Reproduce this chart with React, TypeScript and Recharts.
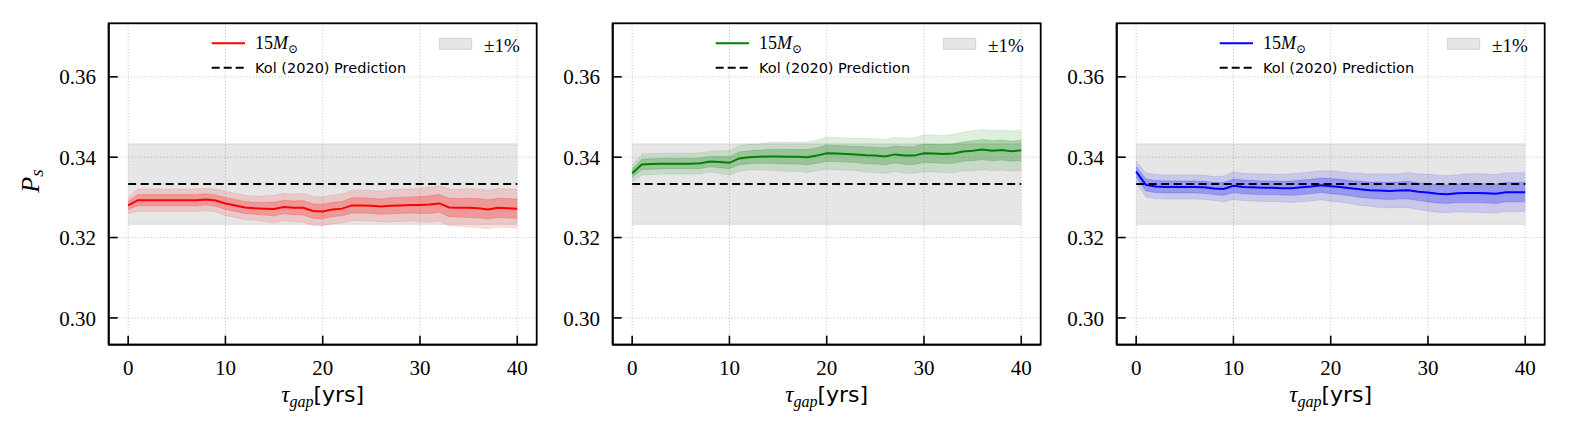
import React from 'react'
import {
  ComposedChart, Area, Line, XAxis, YAxis, CartesianGrid, Legend,
} from 'recharts'

// ── Data ───────────────────────────────────────────────────────────────────────
const T_GAP = [
  0, 1, 2, 3, 4, 5, 6, 7, 8, 9, 10, 11, 12, 13, 14, 15, 16, 17, 18, 19, 20,
  21, 22, 23, 24, 25, 26, 27, 28, 29, 30, 31, 32, 33, 34, 35, 36, 37, 38, 39, 40,
]

const RED_MEAN = [
  0.3280, 0.3293, 0.3293, 0.3293, 0.3293, 0.3293, 0.3293, 0.3293, 0.3295, 0.3292,
  0.3285, 0.3280, 0.3275, 0.3273, 0.3272, 0.3271, 0.3276, 0.3274, 0.3274, 0.3266,
  0.3265, 0.3270, 0.3272, 0.3280, 0.3280, 0.3279, 0.3277, 0.3279, 0.3280, 0.3281,
  0.3281, 0.3282, 0.3285, 0.3275, 0.3274, 0.3274, 0.3273, 0.3270, 0.3274, 0.3273,
  0.3272,
]
const RED_SIGMA = [
  0.0010, 0.0014, 0.0014, 0.0014, 0.0014, 0.0014, 0.0014, 0.0014, 0.0014, 0.0014,
  0.0015, 0.0015, 0.0015, 0.0015, 0.0016, 0.0017, 0.0017, 0.0017, 0.0018, 0.0018,
  0.0018, 0.0018, 0.0018, 0.0019, 0.0019, 0.0019, 0.0019, 0.0020, 0.0020, 0.0020,
  0.0021, 0.0022, 0.0022, 0.0023, 0.0023, 0.0024, 0.0024, 0.0024, 0.0024, 0.0024,
  0.0024,
]

const GREEN_MEAN = [
  0.3360, 0.3382, 0.3383, 0.3384, 0.3384, 0.3384, 0.3384, 0.3385, 0.3389, 0.3388,
  0.3386, 0.3397, 0.3400, 0.3401, 0.3402, 0.3402, 0.3401, 0.3401, 0.3400, 0.3404,
  0.3410, 0.3409, 0.3408, 0.3407, 0.3405, 0.3404, 0.3402, 0.3407, 0.3404, 0.3404,
  0.3410, 0.3409, 0.3408, 0.3409, 0.3414, 0.3416, 0.3419, 0.3416, 0.3418, 0.3415,
  0.3417,
]
const GREEN_SIGMA = [
  0.0010, 0.0013, 0.0013, 0.0013, 0.0013, 0.0013, 0.0013, 0.0013, 0.0013, 0.0014,
  0.0015, 0.0016, 0.0016, 0.0016, 0.0017, 0.0018, 0.0018, 0.0018, 0.0019, 0.0019,
  0.0020, 0.0020, 0.0020, 0.0020, 0.0021, 0.0021, 0.0021, 0.0021, 0.0022, 0.0022,
  0.0023, 0.0023, 0.0023, 0.0024, 0.0024, 0.0025, 0.0025, 0.0025, 0.0025, 0.0025,
  0.0025,
]

const BLUE_MEAN = [
  0.3364, 0.3331, 0.3327, 0.3326, 0.3326, 0.3326, 0.3326, 0.3325, 0.3322, 0.3321,
  0.3329, 0.3326, 0.3325, 0.3324, 0.3324, 0.3323, 0.3323, 0.3325, 0.3327, 0.3330,
  0.3328, 0.3326, 0.3323, 0.3320, 0.3318, 0.3317, 0.3316, 0.3317, 0.3318, 0.3314,
  0.3312, 0.3309, 0.3308, 0.3310, 0.3311, 0.3311, 0.3310, 0.3309, 0.3313, 0.3313,
  0.3313,
]
const BLUE_SIGMA = [
  0.0013, 0.0015, 0.0015, 0.0015, 0.0015, 0.0015, 0.0015, 0.0015, 0.0015, 0.0016,
  0.0017, 0.0017, 0.0017, 0.0017, 0.0017, 0.0017, 0.0018, 0.0018, 0.0018, 0.0018,
  0.0019, 0.0019, 0.0019, 0.0020, 0.0020, 0.0021, 0.0021, 0.0021, 0.0022, 0.0022,
  0.0023, 0.0023, 0.0023, 0.0023, 0.0024, 0.0024, 0.0024, 0.0024, 0.0024, 0.0024,
  0.0024,
]

const KOL_PREDICTION = 0.3333
const BAND_LO = 0.3233
const BAND_HI = 0.3433

const X_TICKS = [0, 10, 20, 30, 40]
const Y_TICKS = [0.30, 0.32, 0.34, 0.36]
const X_DOMAIN: [number, number] = [-2, 42]
const Y_DOMAIN: [number, number] = [0.29333, 0.37333]

// ── Layout ─────────────────────────────────────────────────────────────────────
const CHART_W = 545
const CHART_H = 437
const PANEL_STEP = 504
const PLOT_LEFT = 108.7
const PLOT_TOP = 23.3
const PLOT_BOTTOM = 344.7
const PLOT_RIGHT = 536.7
const TICK_LEN = 9

const SERIF = '"Liberation Serif", "DejaVu Serif", serif'
const SANS = '"DejaVu Sans", sans-serif'

function buildRows(mean: number[], sigma: number[]) {
  return T_GAP.map((t, i) => ({
    t,
    mean: mean[i],
    inner: [mean[i] - sigma[i], mean[i] + sigma[i]],
    outer: [mean[i] - 2 * sigma[i], mean[i] + 2 * sigma[i]],
    band: [BAND_LO, BAND_HI],
    kol: KOL_PREDICTION,
  }))
}

// ── Ticks (inward, matplotlib style) ──────────────────────────────────────────
function YTick(props: any) {
  const { y, payload } = props
  return (
    <g>
      <line x1={PLOT_LEFT} x2={PLOT_LEFT + TICK_LEN} y1={y} y2={y} stroke="#000" strokeWidth={1.6} />
      <text x={96} y={y + 7.6} textAnchor="end" fontFamily={SERIF} fontSize={21} fill="#000">
        {Number(payload.value).toFixed(2)}
      </text>
    </g>
  )
}

function XTick(props: any) {
  const { x, payload } = props
  return (
    <g>
      <line x1={x} x2={x} y1={PLOT_BOTTOM} y2={PLOT_BOTTOM - TICK_LEN} stroke="#000" strokeWidth={1.6} />
      <text x={x} y={374.5} textAnchor="middle" fontFamily={SERIF} fontSize={21} fill="#000">
        {payload.value}
      </text>
    </g>
  )
}

// ── Legend + frame overlay ────────────────────────────────────────────────────
function PanelLegend({ color }: { color: string }) {
  return (
    <svg width={CHART_W} height={CHART_H} style={{ display: 'block', overflow: 'visible' }}>
      <rect x={PLOT_LEFT} y={PLOT_TOP} width={PLOT_RIGHT - PLOT_LEFT} height={PLOT_BOTTOM - PLOT_TOP}
        fill="none" stroke="#000" strokeWidth={1.8} />
      <line x1={211.7} x2={245} y1={43.3} y2={43.3} stroke={color} strokeWidth={2} />
      <text x={255} y={49} fontFamily={SERIF} fontSize={18} fill="#000">
        15<tspan fontStyle="italic">M</tspan>
        <tspan fontSize={12} dy={4}>⊙</tspan>
      </text>
      <line x1={211.7} x2={244} y1={67.7} y2={67.7} stroke="#000" strokeWidth={2} strokeDasharray="8 4" />
      <text x={255} y={73} fontFamily={SANS} fontSize={14.5} fill="#000">Kol (2020) Prediction</text>
      <rect x={439.3} y={38.3} width={32.4} height={11} fill="#808080" fillOpacity={0.2}
        stroke="#808080" strokeOpacity={0.25} />
      <text x={484} y={51.5} fontFamily={SERIF} fontSize={19} fill="#000">±1%</text>
    </svg>
  )
}

// ── Axis titles ────────────────────────────────────────────────────────────────
function XTitle() {
  const cx = (PLOT_LEFT + PLOT_RIGHT) / 2
  return (
    <text x={cx} y={402} textAnchor="middle" fill="#000">
      <tspan fontFamily={SERIF} fontStyle="italic" fontSize={23}>τ</tspan>
      <tspan fontFamily={SERIF} fontStyle="italic" fontSize={16} dy={5}>gap</tspan>
      <tspan fontFamily={SANS} fontSize={22} dy={-5}>[yrs]</tspan>
    </text>
  )
}

function YTitle() {
  return (
    <text transform="translate(38.5,181) rotate(-90)" textAnchor="middle" fill="#000">
      <tspan fontFamily={SERIF} fontStyle="italic" fontSize={26}>P</tspan>
      <tspan fontFamily={SERIF} fontStyle="italic" fontSize={19} dy={4}>s</tspan>
    </text>
  )
}

// ── Panel ──────────────────────────────────────────────────────────────────────
function Panel({ color, mean, sigma, index }: {
  color: string
  mean: number[]
  sigma: number[]
  index: number
}) {
  const rows = buildRows(mean, sigma)

  return (
    <div style={{ position: 'absolute', left: index * PANEL_STEP, top: 0 }}>
      <ComposedChart
        width={CHART_W}
        height={CHART_H}
        data={rows}
        margin={{ top: PLOT_TOP, right: CHART_W - PLOT_RIGHT, bottom: 0, left: 0 }}
      >
        <CartesianGrid stroke="#c8c8c8" strokeWidth={1} strokeDasharray="1.2 2" />

        <XAxis
          dataKey="t"
          type="number"
          domain={X_DOMAIN}
          ticks={X_TICKS}
          interval={0}
          allowDataOverflow
          height={CHART_H - PLOT_BOTTOM}
          tick={<XTick />}
          tickLine={false}
          axisLine={{ stroke: '#000', strokeWidth: 1.8 }}
          label={<XTitle />}
        />
        <YAxis
          type="number"
          domain={Y_DOMAIN}
          ticks={Y_TICKS}
          interval={0}
          allowDataOverflow
          width={PLOT_LEFT}
          tick={<YTick />}
          tickLine={false}
          axisLine={{ stroke: '#000', strokeWidth: 1.8 }}
          label={index === 0 ? <YTitle /> : undefined}
        />

        <Legend
          layout="vertical"
          align="center"
          verticalAlign="middle"
          wrapperStyle={{ left: 0, top: 0, width: CHART_W, height: CHART_H, lineHeight: 0, pointerEvents: 'none' }}
          content={() => <PanelLegend color={color} />}
        />

        <Area
          dataKey="band"
          type="linear"
          fill="#808080"
          fillOpacity={0.2}
          stroke="#808080"
          strokeOpacity={0.2}
          strokeWidth={1.2}
          dot={false}
          activeDot={false}
          isAnimationActive={false}
        />
        <Area
          dataKey="outer"
          type="linear"
          fill={color}
          fillOpacity={0.13}
          stroke={color}
          strokeOpacity={0.1}
          strokeWidth={1}
          dot={false}
          activeDot={false}
          isAnimationActive={false}
        />
        <Area
          dataKey="inner"
          type="linear"
          fill={color}
          fillOpacity={0.24}
          stroke={color}
          strokeOpacity={0.18}
          strokeWidth={1}
          dot={false}
          activeDot={false}
          isAnimationActive={false}
        />
        <Line
          dataKey="mean"
          type="linear"
          stroke={color}
          strokeWidth={2}
          dot={false}
          activeDot={false}
          isAnimationActive={false}
        />
        <Line
          dataKey="kol"
          type="linear"
          stroke="#000"
          strokeWidth={2}
          strokeDasharray="8 4.5"
          dot={false}
          activeDot={false}
          isAnimationActive={false}
        />
      </ComposedChart>
    </div>
  )
}

export default function App() {
  return (
    <div style={{ position: 'absolute', left: 0, top: 0, width: 1575, height: 437, background: '#fff' }}>
      <Panel index={0} color="#ff0000" mean={RED_MEAN} sigma={RED_SIGMA} />
      <Panel index={1} color="#008000" mean={GREEN_MEAN} sigma={GREEN_SIGMA} />
      <Panel index={2} color="#0000ff" mean={BLUE_MEAN} sigma={BLUE_SIGMA} />
    </div>
  )
}
